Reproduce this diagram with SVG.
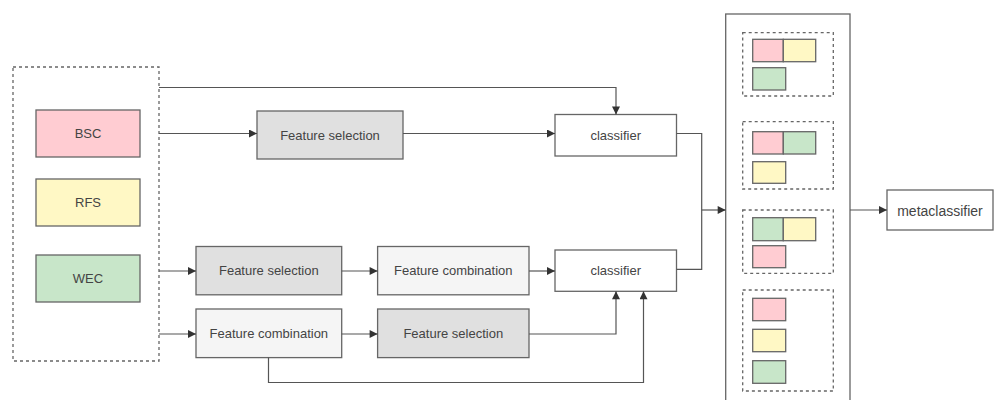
<svg xmlns="http://www.w3.org/2000/svg" width="995" height="400" viewBox="0 0 995 400">
<defs>
<style>
.box{stroke:#666;stroke-width:1.3}
.dash{fill:none;stroke:#666;stroke-width:1.3;stroke-dasharray:3 3}
.t{font-family:"Liberation Sans",Arial,sans-serif;font-size:13px;fill:#444;text-anchor:middle;dominant-baseline:central}
.pink{fill:#ffccd2}
.yellow{fill:#fff8c5}
.green{fill:#c8e6c9}
.gray{fill:#e0e0e0}
.light{fill:#f5f5f5}
.white{fill:#ffffff}
.c{fill:none;stroke:#555;stroke-width:1.2}
</style>
<marker id="ah" viewBox="0 0 10 10" refX="10" refY="5" markerWidth="10" markerHeight="8" markerUnits="userSpaceOnUse" orient="auto">
<path d="M0,0 L10,5 L0,10 z" fill="#333"/>
</marker>
</defs>
<rect width="995" height="400" fill="#fff"/>

<g id="inputs">
<rect class="dash" x="13" y="67" width="146" height="294"/>
</g>
<g id="bsc"><rect class="box pink" x="36" y="110" width="104" height="47"/><text class="t" x="88" y="133.5">BSC</text></g>
<g id="rfs"><rect class="box yellow" x="36" y="179" width="104" height="47"/><text class="t" x="88" y="202.5">RFS</text></g>
<g id="wec"><rect class="box green" x="36" y="255" width="104" height="47"/><text class="t" x="88" y="278.5">WEC</text></g>

<g id="fs1"><rect class="box gray" x="257" y="111" width="146" height="48"/><text class="t" x="330" y="135">Feature selection</text></g>
<g id="clf1"><rect class="box white" x="555" y="114.5" width="121.5" height="41.5"/><text class="t" x="615.75" y="135">classifier</text></g>

<g id="fs2"><rect class="box gray" x="196" y="246.5" width="145.7" height="48.3"/><text class="t" x="268.85" y="270.5">Feature selection</text></g>
<g id="fc2"><rect class="box light" x="377.6" y="246.5" width="151.4" height="48.3"/><text class="t" x="453.3" y="270.5">Feature combination</text></g>
<g id="clf2"><rect class="box white" x="555" y="250" width="121.5" height="41.3"/><text class="t" x="615.75" y="270.5">classifier</text></g>

<g id="fc3"><rect class="box light" x="196" y="309" width="145.7" height="48.6"/><text class="t" x="268.85" y="333">Feature combination</text></g>
<g id="fs3"><rect class="box gray" x="377.6" y="309" width="151.4" height="48.6"/><text class="t" x="453.3" y="333">Feature selection</text></g>

<g id="ensemble">
<rect class="box white" x="725.7" y="14" width="124.3" height="392"/>
<rect class="dash" x="742.7" y="32.7" width="90.6" height="63.3"/>
<rect class="box pink" x="752.7" y="39.3" width="30.6" height="22.4"/>
<rect class="box yellow" x="783.3" y="39.3" width="32.4" height="22.4"/>
<rect class="box green" x="752.7" y="67.7" width="33" height="22.3"/>
<rect class="dash" x="742.7" y="121.7" width="90.6" height="67.3"/>
<rect class="box pink" x="752.7" y="131.7" width="30.6" height="22.3"/>
<rect class="box green" x="783.3" y="131.7" width="32.4" height="22.3"/>
<rect class="box yellow" x="752.7" y="161.7" width="33" height="21.6"/>
<rect class="dash" x="742.7" y="210" width="90.6" height="63.3"/>
<rect class="box green" x="752.7" y="217.7" width="30.6" height="23"/>
<rect class="box yellow" x="783.3" y="217.7" width="32.4" height="23"/>
<rect class="box pink" x="752.7" y="245.7" width="33" height="22"/>
<rect class="dash" x="742.7" y="290" width="90.6" height="101"/>
<rect class="box pink" x="752.7" y="298.3" width="33" height="22.4"/>
<rect class="box yellow" x="752.7" y="329.3" width="33" height="22.4"/>
<rect class="box green" x="752.7" y="360.7" width="33" height="22.6"/>
</g>

<g id="meta"><rect class="box white" x="887" y="190" width="106" height="40"/><text class="t" x="940" y="211" style="font-size:14px">metaclassifier</text></g>

<g id="connectors">
<path class="c" d="M159,87.5 H616 V114.5" marker-end="url(#ah)"/>
<path class="c" d="M159,133.5 H257" marker-end="url(#ah)"/>
<path class="c" d="M403,133.5 H555" marker-end="url(#ah)"/>
<path class="c" d="M159,271 H196" marker-end="url(#ah)"/>
<path class="c" d="M341.7,271 H377.6" marker-end="url(#ah)"/>
<path class="c" d="M529,271 H555" marker-end="url(#ah)"/>
<path class="c" d="M159,334 H196" marker-end="url(#ah)"/>
<path class="c" d="M341.7,334 H377.6" marker-end="url(#ah)"/>
<path class="c" d="M529,334 H616 V291.3" marker-end="url(#ah)"/>
<path class="c" d="M268.5,357.6 V382.5 H643.5 V291.3" marker-end="url(#ah)"/>
<path class="c" d="M676.5,133.5 H701.7 V269.3 H676.5"/>
<path class="c" d="M701.7,210 H725.7" marker-end="url(#ah)"/>
<path class="c" d="M850,210 H887" marker-end="url(#ah)"/>
</g>
</svg>
